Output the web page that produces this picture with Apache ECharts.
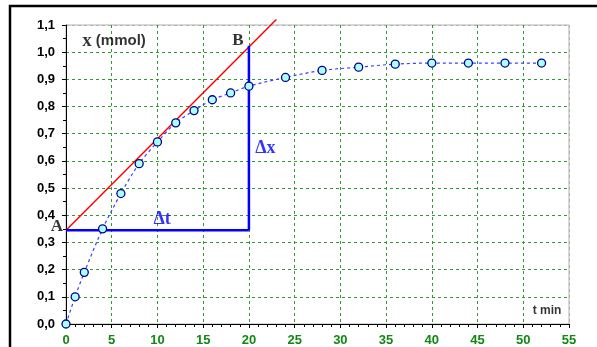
<!DOCTYPE html>
<html>
<head>
<meta charset="utf-8">
<script src="https://cdn.jsdelivr.net/npm/echarts@6/dist/echarts.min.js"></script>
<style>
  html, body { margin: 0; padding: 0; background: #fff; }
  #chart { width: 597px; height: 347px; }
</style>
</head>
<body>
<div id="chart"></div>
<script>
// measured points x(t)
var times = [0, 1, 2, 4, 6, 8, 10, 12, 14, 16, 18, 20, 24, 28, 32, 36, 40, 44, 48, 52];
var amounts = [0.0, 0.1, 0.19, 0.35, 0.48, 0.59, 0.67, 0.74, 0.785, 0.825, 0.85, 0.875, 0.907, 0.933, 0.945, 0.956, 0.96, 0.96, 0.96, 0.96];

// tangent at A and the triangle
var tangentLine = [[0, 0.345], [23, 1.12]];
var deltaT = [[0, 0.345], [20, 0.345]];
var deltaX = [[20, 0.345], [20, 1.024]];

// text annotations [t, x, text, style]
var notes = [
  [0, 0.345, 'A', 'pt'],
  [18.8, 1.044, 'B', 'pt'],
  [10.5, 0.385, 'Δt', 'delta'],
  [21.8, 0.648, 'Δx', 'delta'],
  [5.25, 1.04, '{b|x} (mmol)', 'unit'],
  [52.6, 0.048, 't min', 'tmin']
];

var yTicks = 12;
var xTicks = 12;
var gridGreen = '#339933';
var yLineColors = [];
for (var i = 0; i < yTicks; i++) yLineColors.push(i === yTicks - 1 ? '#b0b0b0' : gridGreen);
var xLineColors = [];
for (var j = 0; j < xTicks; j++) xLineColors.push(j === xTicks - 1 ? '#b0b0b0' : gridGreen);

var myChart = echarts.init(document.getElementById('chart'));

var points = times.map(function (t, i) { return [t, amounts[i]]; });

var option = {
  animation: false,
  graphic: [{
    type: 'rect',
    shape: { x: 10, y: 6, width: 640, height: 400 },
    style: { fill: 'none', stroke: '#000', lineWidth: 2.5 },
    z: -1
  }],
  grid: {
    left: 66, right: 28, top: 25, bottom: 22,
    show: true, borderColor: '#b0b0b0', borderWidth: 1
  },
  xAxis: {
    type: 'value', min: 0, max: 55, interval: 5,
    axisLine: { lineStyle: { color: '#000', width: 1 } },
    axisTick: { length: 4, lineStyle: { color: '#000' } },
    minorTick: { show: true, splitNumber: 5, length: 3, lineStyle: { color: '#000' } },
    axisLabel: { color: '#118811', fontWeight: 'bold', fontSize: 13, fontFamily: 'Arial, Liberation Sans', margin: 10 },
    splitLine: { show: true, lineStyle: { color: xLineColors, type: [3, 3], width: 1 } }
  },
  yAxis: {
    type: 'value', min: 0, max: 1.1, interval: 0.1,
    axisLine: { show: true, lineStyle: { color: '#000', width: 1 } },
    axisTick: { show: true, length: 4, lineStyle: { color: '#000' } },
    minorTick: { show: true, splitNumber: 2, length: 3, lineStyle: { color: '#000' } },
    axisLabel: {
      color: '#000', fontWeight: 'bold', fontSize: 13, fontFamily: 'Arial, Liberation Sans', margin: 11,
      formatter: function (v) { return v.toFixed(1).replace('.', ','); }
    },
    splitLine: { show: true, lineStyle: { color: yLineColors, type: [3, 3], width: 1 } }
  },
  series: [
    {
      name: 'tangent', type: 'line', data: tangentLine, symbol: 'none',
      lineStyle: { color: '#ff0000', width: 1.5 }, clip: false, z: 3
    },
    {
      name: 'dt', type: 'line', data: deltaT, symbol: 'none',
      lineStyle: { color: '#0000ff', width: 2.5 }, z: 3
    },
    {
      name: 'dx', type: 'line', data: deltaX, symbol: 'none',
      lineStyle: { color: '#0000ff', width: 2.5 }, z: 3
    },
    {
      name: 'x', type: 'line', data: points, smooth: 0.3,
      symbol: 'circle', symbolSize: 8, clip: false,
      lineStyle: { color: '#3344ff', width: 1.2, type: [3, 3] },
      itemStyle: { color: '#aaffff', borderColor: '#00008b', borderWidth: 1.3 },
      z: 4
    },
    {
      name: 'notes', type: 'scatter', symbolSize: 0, clip: false, z: 5,
      data: notes.map(function (n) {
        var lbl;
        if (n[3] === 'pt') {
          lbl = { fontFamily: 'Times New Roman, Liberation Serif', fontWeight: 'bold', fontSize: 17, color: '#000' };
          if (n[2] === 'A') { lbl.position = 'left'; lbl.distance = 3; lbl.offset = [0, -4]; }
          else { lbl.position = 'inside'; }
        } else if (n[3] === 'delta') {
          lbl = { position: 'inside', fontFamily: 'Times New Roman, Liberation Serif', fontWeight: 'bold', fontSize: 18, color: '#0000ff' };
        } else if (n[3] === 'unit') {
          lbl = { position: 'inside', fontFamily: 'Arial, Liberation Sans', fontWeight: 'bold', fontSize: 15, color: '#000',
            rich: { b: { fontFamily: 'Times New Roman, Liberation Serif', fontWeight: 'bold', fontSize: 19, color: '#000' } } };
        } else {
          lbl = { position: 'inside', fontFamily: 'Arial, Liberation Sans', fontWeight: 'bold', fontSize: 12, color: '#000' };
        }
        lbl.show = true;
        lbl.formatter = n[2];
        return { value: [n[0], n[1]], label: lbl };
      })
    }
  ]
};

myChart.setOption(option);
</script>
</body>
</html>
